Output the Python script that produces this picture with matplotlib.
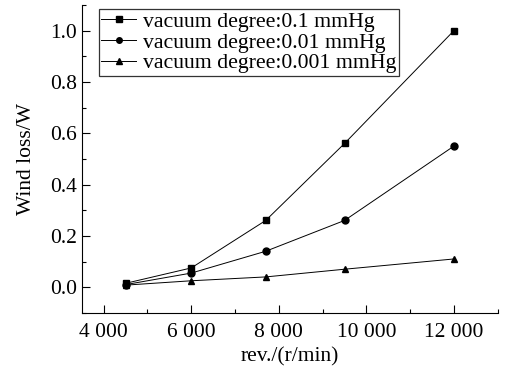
import matplotlib
matplotlib.use("Agg")
import matplotlib.pyplot as plt
from matplotlib.ticker import MultipleLocator, FuncFormatter

# data
rev = [4500, 6000, 7700, 9500, 12000]
loss_01 = [0.015, 0.075, 0.26, 0.56, 1.0]
loss_001 = [0.01, 0.055, 0.14, 0.26, 0.55]
loss_0001 = [0.008, 0.025, 0.04, 0.07, 0.11]
labels = ["vacuum degree:0.1 mmHg", "vacuum degree:0.01 mmHg", "vacuum degree:0.001 mmHg"]

plt.rcParams['font.family'] = ['Liberation Serif', 'DejaVu Serif']

fig = plt.figure(figsize=(5.08, 3.72), dpi=100)
ax = fig.add_axes([0.161, 0.159, 0.819, 0.828])

for y, m, lab in zip([loss_01, loss_001, loss_0001], ['s', 'o', '^'], labels):
    ax.plot(rev, y, color='black', lw=0.7, marker=m, ms=5, label=lab)

ax.set_xlim(3500, 13000)
ax.set_ylim(-0.1, 1.1)
ax.xaxis.set_major_locator(MultipleLocator(2000))
ax.xaxis.set_minor_locator(MultipleLocator(1000))
ax.yaxis.set_major_locator(MultipleLocator(0.2))
ax.yaxis.set_minor_locator(MultipleLocator(0.1))
ax.xaxis.set_major_formatter(FuncFormatter(lambda v, p: f"{int(v):,}".replace(",", " ")))
ax.yaxis.set_major_formatter(FuncFormatter(lambda v, p: f"{v:.1f}"))

ax.spines['top'].set_visible(False)
ax.spines['right'].set_visible(False)
ax.tick_params(which='both', direction='in', labelsize=15.5, width=0.8)
ax.tick_params(which='major', length=6)
ax.tick_params(which='minor', length=3)
ax.tick_params(axis='x', pad=7)

ax.set_xlabel("rev./(r/min)", fontsize=15.5, labelpad=4)
ax.set_ylabel("Wind loss/W", fontsize=15.5, labelpad=10)

leg = ax.legend(loc='upper left', bbox_to_anchor=(0.03, 1.0), fontsize=15.7, frameon=True,
                fancybox=False, edgecolor='black', handlelength=1.6, handletextpad=0.3,
                borderpad=0.12, labelspacing=0.02, markerscale=0.8, borderaxespad=0.2)
leg.get_frame().set_linewidth(0.9)

fig.savefig("out.png", dpi=100)
